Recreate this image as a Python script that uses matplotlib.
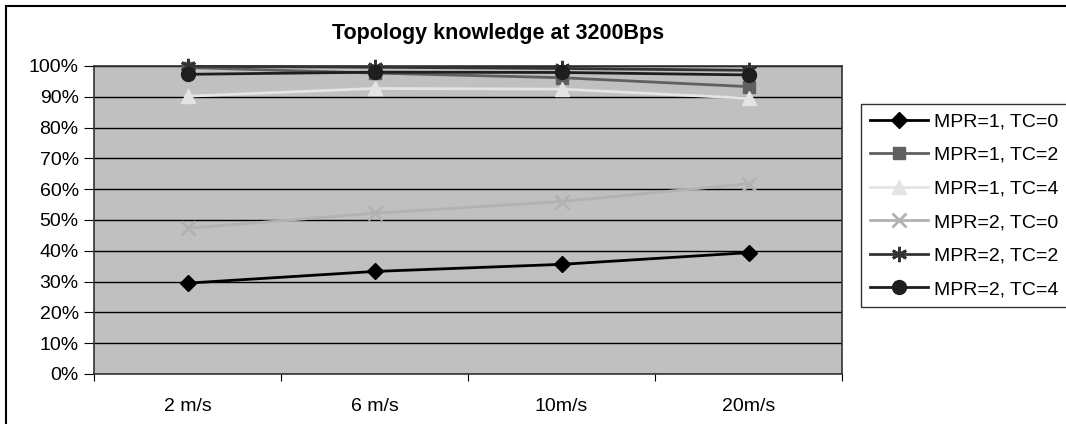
import matplotlib.pyplot as plt
import matplotlib.patches as mpatches

plt.rcParams['font.family'] = ['Liberation Sans', 'DejaVu Sans']

# Data
speeds = ['2 m/s', '6 m/s', '10m/s', '20m/s']
series_names = ['MPR=1, TC=0', 'MPR=1, TC=2', 'MPR=1, TC=4',
                'MPR=2, TC=0', 'MPR=2, TC=2', 'MPR=2, TC=4']
mpr1_tc0 = [29.5, 33.3, 35.6, 39.4]
mpr1_tc2 = [99.5, 97.7, 96.2, 93.3]
mpr1_tc4 = [90.2, 92.7, 92.5, 89.5]
mpr2_tc0 = [47.3, 52.2, 56.0, 61.8]
mpr2_tc2 = [99.9, 99.6, 99.2, 98.6]
mpr2_tc4 = [97.3, 98.0, 97.9, 97.1]
yticks = list(range(0, 101, 10))

series = [mpr1_tc0, mpr1_tc2, mpr1_tc4, mpr2_tc0, mpr2_tc2, mpr2_tc4]
colors = ['#000000', '#606060', '#e4e4e4', '#b2b2b2', '#333333', '#1e1e1e']
markers = ['D', 's', '^', 'x', (6, 2, 0), 'o']
msizes = [8, 9, 10, 10, 11, 10]

fig = plt.figure(figsize=(10.66, 4.24), dpi=100)
ax = fig.add_axes([94 / 1066, 1 - 374 / 424, 748 / 1066, 308 / 424])
ax.set_facecolor('#c0c0c0')

x = [i + 0.5 for i in range(len(speeds))]
for vals, name, c, m, ms in zip(series, series_names, colors, markers, msizes):
    ax.plot(x, vals, color=c, marker=m, markersize=ms, linewidth=2, label=name,
            markeredgewidth=2 if m in ('x', (6, 2, 0)) else 1, markeredgecolor=c,
            clip_on=False, zorder=3)

ax.set_xlim(0, 4)
ax.set_ylim(0, 100)
ax.set_yticks(yticks)
ax.set_yticklabels([f'{v}%' for v in yticks], fontsize=14)
ax.set_xticks([0, 1, 2, 3, 4])
ax.set_xticklabels([])
ax.set_xticks(x, minor=True)
ax.set_xticklabels(speeds, minor=True, fontsize=14)
ax.tick_params(axis='x', which='minor', length=0, pad=17)
ax.tick_params(axis='x', which='major', length=5, direction='out')
ax.tick_params(axis='y', length=7, direction='out', pad=4)
ax.grid(axis='y', color='black', linewidth=1)
ax.set_axisbelow(True)
for s in ax.spines.values():
    s.set_color('#333333')
    s.set_linewidth(1.2)

fig.text(498 / 1066, 1 - 33 / 424, 'Topology knowledge at 3200Bps',
         ha='center', va='center', fontsize=15.5, fontweight='bold')

leg = ax.legend(loc='upper left', bbox_to_anchor=(861 / 1066, 1 - 104 / 424),
                bbox_transform=fig.transFigure, fontsize=14, frameon=True,
                fancybox=False, edgecolor='black', handlelength=3,
                borderaxespad=0, labelspacing=0.82, handletextpad=0.3,
                borderpad=0.45)
leg.get_frame().set_linewidth(1)

fig.patches.append(mpatches.Rectangle((6 / 1066, -0.05), 1.1, 1.05 - 6 / 424,
                                      transform=fig.transFigure, fill=False,
                                      edgecolor='black', linewidth=1.5))

fig.savefig('out.png', dpi=100)
